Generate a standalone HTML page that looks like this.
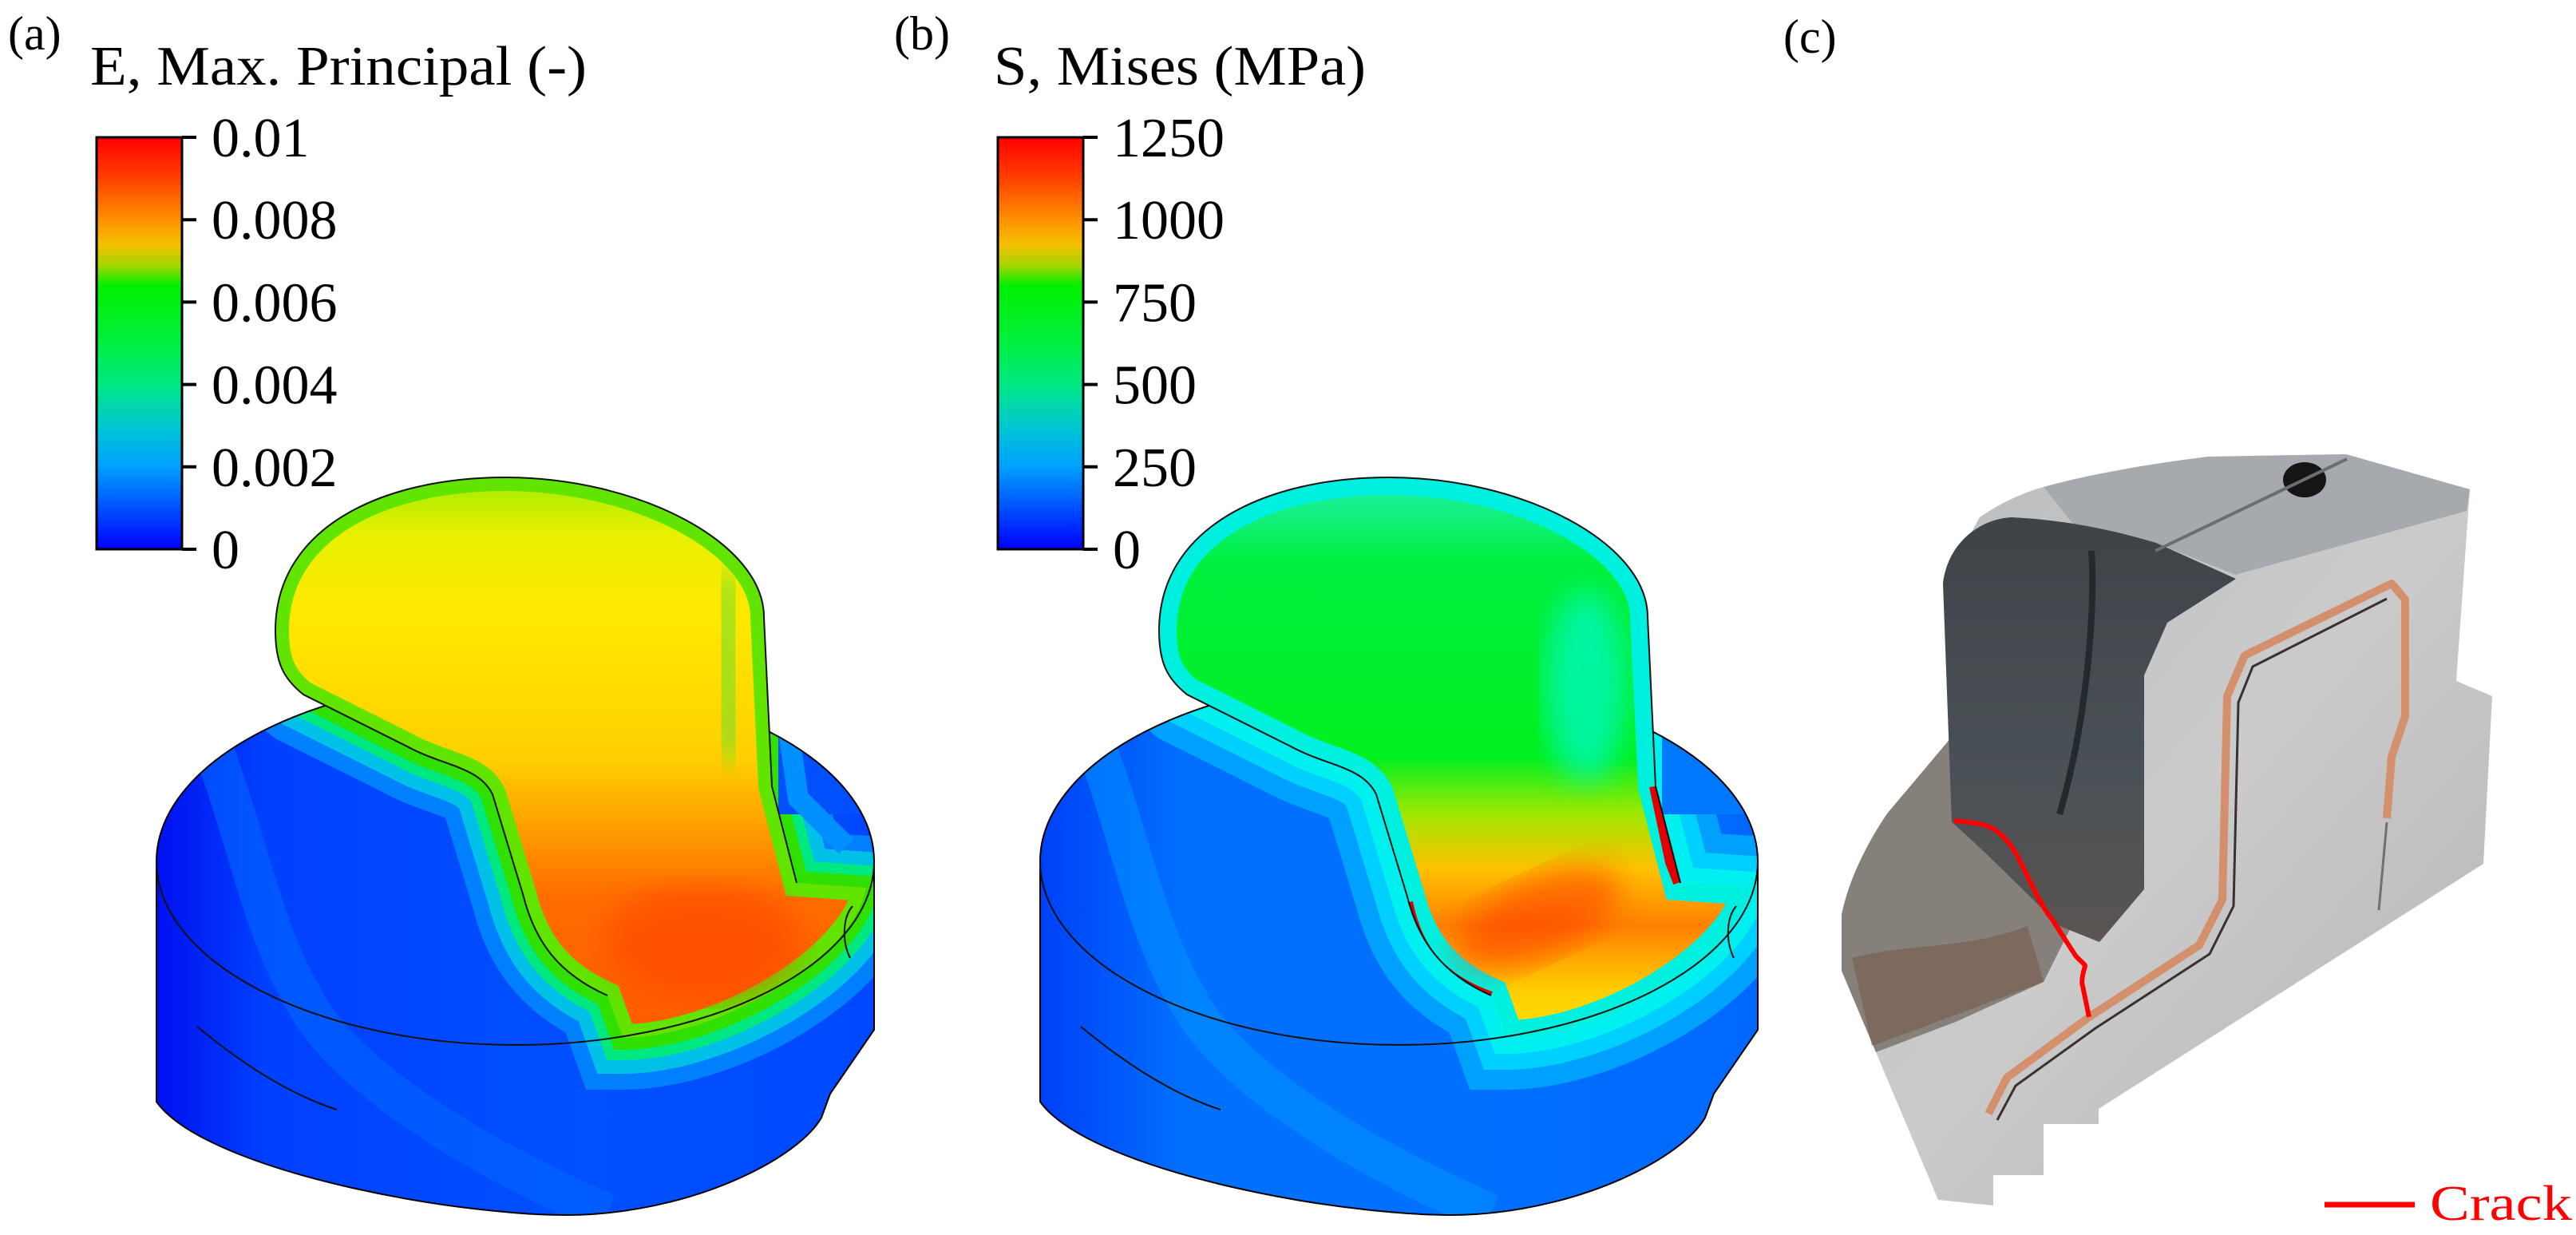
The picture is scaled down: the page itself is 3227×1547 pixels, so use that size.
<!DOCTYPE html>
<html><head><meta charset="utf-8">
<style>
html,body{margin:0;padding:0;background:#fff;}
svg{display:block;}
text{font-family:"Liberation Serif","Times New Roman",serif;}
</style></head>
<body>
<svg id="fig" width="3227" height="1547" viewBox="0 0 3227 1547" xmlns="http://www.w3.org/2000/svg">
<defs>
  <linearGradient id="cbar" x1="0" y1="0" x2="0" y2="1">
    <stop offset="0" stop-color="#ff0000"/>
    <stop offset="0.1" stop-color="#ff4000"/>
    <stop offset="0.2" stop-color="#ff9000"/>
    <stop offset="0.26" stop-color="#f5c000"/>
    <stop offset="0.31" stop-color="#a8d400"/>
    <stop offset="0.36" stop-color="#00f000"/>
    <stop offset="0.5" stop-color="#00f040"/>
    <stop offset="0.6" stop-color="#00e884"/>
    <stop offset="0.7" stop-color="#00c8d0"/>
    <stop offset="0.8" stop-color="#00a0ff"/>
    <stop offset="0.9" stop-color="#0050ff"/>
    <stop offset="1" stop-color="#0000ff"/>
  </linearGradient>
  <linearGradient id="domeA" x1="0" y1="598" x2="0" y2="1300" gradientUnits="userSpaceOnUse">
    <stop offset="0" stop-color="#a0ec00"/>
    <stop offset="0.1" stop-color="#e8f000"/>
    <stop offset="0.25" stop-color="#ffe800"/>
    <stop offset="0.5" stop-color="#ffd000"/>
    <stop offset="0.62" stop-color="#ffa000"/>
    <stop offset="0.75" stop-color="#ff6c00"/>
    <stop offset="1" stop-color="#ff5c00"/>
  </linearGradient>
  <linearGradient id="domeB" x1="0" y1="598" x2="0" y2="1300" gradientUnits="userSpaceOnUse">
    <stop offset="0" stop-color="#20f0b0"/>
    <stop offset="0.15" stop-color="#00f040"/>
    <stop offset="0.5" stop-color="#00f020"/>
    <stop offset="0.6" stop-color="#a0e800"/>
    <stop offset="0.7" stop-color="#ffc000"/>
    <stop offset="0.8" stop-color="#ff8000"/>
    <stop offset="0.92" stop-color="#ffd000"/>
    <stop offset="1" stop-color="#ffe000"/>
  </linearGradient>
  <linearGradient id="baseA" x1="196" y1="0" x2="1095" y2="0" gradientUnits="userSpaceOnUse">
    <stop offset="0" stop-color="#0010f0"/>
    <stop offset="0.15" stop-color="#0040ff"/>
    <stop offset="0.6" stop-color="#0050ff"/>
    <stop offset="1" stop-color="#0048ff"/>
  </linearGradient>
  <linearGradient id="baseB" x1="196" y1="0" x2="1095" y2="0" gradientUnits="userSpaceOnUse">
    <stop offset="0" stop-color="#0040f8"/>
    <stop offset="0.2" stop-color="#0070ff"/>
    <stop offset="0.6" stop-color="#0070ff"/>
    <stop offset="1" stop-color="#0068ff"/>
  </linearGradient>
  <linearGradient id="metal" x1="0" y1="0" x2="1" y2="1">
    <stop offset="0" stop-color="#b8babc"/>
    <stop offset="0.5" stop-color="#cbcbcb"/>
    <stop offset="1" stop-color="#b4b4b4"/>
  </linearGradient>
  <linearGradient id="darkpart" x1="0" y1="0" x2="0" y2="1">
    <stop offset="0" stop-color="#3e4348"/>
    <stop offset="0.6" stop-color="#4a5156"/>
    <stop offset="1" stop-color="#5a5552"/>
  </linearGradient>
  <filter id="blur"><feGaussianBlur stdDeviation="18"/></filter>
  <path id="basePath" d="M196,1079 L196,1380 C260,1470 600,1530 741,1521 C880,1512 1000,1450 1029,1400 L1040,1370 L1095,1290 L1095,1079 A449.5,230 0 0 0 196,1079 Z"/>
  <path id="domePath" d="M345,790 C345,660 480,598 633,598 C800,598 957,680 957,773 L967,985 L998,1106 L1085,1112 C1070,1200 900,1300 780,1300 L761,1247 C700,1220 670,1180 655,1120 L617,995 C600,960 556,960 510,935 L380,870 C355,850 345,830 345,790 Z"/>
  <clipPath id="clipBase"><use href="#basePath"/></clipPath>
  <clipPath id="clipDome"><use href="#domePath"/></clipPath>
</defs>

<text x="10" y="62" font-size="60">(a)</text>
<text x="113" y="106" font-size="70" textLength="622" lengthAdjust="spacingAndGlyphs">E, Max. Principal (-)</text>
<text x="1120" y="62" font-size="60">(b)</text>
<text x="1245" y="106" font-size="70" textLength="466" lengthAdjust="spacingAndGlyphs">S, Mises (MPa)</text>
<text x="2234" y="66" font-size="60">(c)</text>

<g id="modelA">
  <use href="#basePath" fill="url(#baseA)"/>
  <g clip-path="url(#clipBase)">
    <path d="M250,900 C300,1000 320,1150 380,1250 C430,1350 600,1450 760,1520" stroke="#0068ff" stroke-width="50" fill="none" opacity="0.6"/>
    <use href="#domePath" fill="none" stroke="#0080ff" stroke-width="130"/>
    <use href="#domePath" fill="none" stroke="#00c0e8" stroke-width="90"/>
    <use href="#domePath" fill="none" stroke="#00e880" stroke-width="56"/>
    <use href="#domePath" fill="none" stroke="#30e000" stroke-width="30"/>
    <rect x="975" y="780" width="130" height="240" fill="#0050ff"/>
    <path d="M970,790 L1000,1000 L1060,1060" stroke="#0090ff" stroke-width="26" fill="none"/>
  </g>
  <use href="#basePath" fill="none" stroke="#000" stroke-width="2"/>
  <use href="#domePath" fill="url(#domeA)"/>
  <g clip-path="url(#clipDome)">
    <use href="#domePath" fill="none" stroke="#60e400" stroke-width="34"/>
    <path d="M905,720 L920,950" stroke="#80e020" stroke-width="60" fill="none" opacity="0.7" filter="url(#blur)"/>
    <ellipse cx="880" cy="1180" rx="120" ry="70" fill="#ff4000" opacity="0.55" filter="url(#blur)"/>
  </g>
  <path d="M196,1079 A449.5,230 0 0 0 1095,1079" fill="none" stroke="#111" stroke-width="2"/>
  <path d="M345,790 C345,660 480,598 633,598 C800,598 957,680 957,773 L967,985 L998,1106" fill="none" stroke="#111" stroke-width="2"/>
  <path d="M345,790 C345,830 355,850 380,870 L510,935 C556,960 600,960 617,995 L655,1120 C670,1180 700,1220 761,1247" fill="none" stroke="#111" stroke-width="2"/>
  <path d="M247,1286 C300,1330 360,1370 422,1390" fill="none" stroke="#111" stroke-width="2"/>
  <path d="M1068,1135 C1055,1150 1055,1180 1065,1200" fill="none" stroke="#111" stroke-width="2"/>
</g>

<g id="modelB" transform="translate(1107,0)">
  <use href="#basePath" fill="url(#baseB)"/>
  <g clip-path="url(#clipBase)">
    <path d="M250,900 C300,1000 320,1150 380,1250 C430,1350 600,1450 760,1520" stroke="#0090ff" stroke-width="50" fill="none" opacity="0.6"/>
    <use href="#domePath" fill="none" stroke="#00a0ff" stroke-width="130"/>
    <use href="#domePath" fill="none" stroke="#00d0ff" stroke-width="80"/>
    <use href="#domePath" fill="none" stroke="#00f0f0" stroke-width="40"/>
    <rect x="975" y="780" width="130" height="240" fill="#0078ff"/>
  </g>
  <use href="#basePath" fill="none" stroke="#000" stroke-width="2"/>
  <use href="#domePath" fill="url(#domeB)"/>
  <g clip-path="url(#clipDome)">
    <use href="#domePath" fill="none" stroke="#00f0e0" stroke-width="44"/>
    <ellipse cx="880" cy="860" rx="50" ry="120" fill="#00f8d0" opacity="0.7" filter="url(#blur)"/>
    <ellipse cx="820" cy="1150" rx="110" ry="50" fill="#ff3000" opacity="0.5" transform="rotate(-25 820 1150)" filter="url(#blur)"/>
    <path d="M965,985 L985,1080 L995,1106" stroke="#e00000" stroke-width="12" fill="none"/>
    <path d="M658,1130 C670,1190 700,1225 761,1247" stroke="#e00000" stroke-width="10" fill="none"/>
  </g>
  <path d="M196,1079 A449.5,230 0 0 0 1095,1079" fill="none" stroke="#111" stroke-width="2"/>
  <path d="M345,790 C345,660 480,598 633,598 C800,598 957,680 957,773 L967,985 L998,1106" fill="none" stroke="#111" stroke-width="2"/>
  <path d="M345,790 C345,830 355,850 380,870 L510,935 C556,960 600,960 617,995 L655,1120 C670,1180 700,1220 761,1247" fill="none" stroke="#111" stroke-width="2"/>
  <path d="M247,1286 C300,1330 360,1370 422,1390" fill="none" stroke="#111" stroke-width="2"/>
  <path d="M1068,1135 C1055,1150 1055,1180 1065,1200" fill="none" stroke="#111" stroke-width="2"/>
</g>

<g id="photo">
  <path d="M2480,648 C2520,620 2560,610 2560,610 C2650,585 2767,572 2767,572 L2939,569 L3094,613 L3077,853 L3122,872 L3111,1082 L2629,1389 L2629,1408 L2560,1408 L2560,1472 L2497,1472 L2497,1510 L2428,1503 L2307,1216 L2307,1146 C2320,1080 2365,1018 2365,1018 L2445,923 L2434,731 Z" fill="url(#metal)"/>
  <path d="M2560,610 C2650,585 2767,572 2767,572 L2939,569 L3094,613 L3090,640 L2800,720 L2700,680 L2600,660 Z" fill="#a6aaae"/>
  <path d="M2307,1146 C2320,1080 2365,1018 2365,1018 L2445,923 L2500,1000 L2600,1150 L2560,1230 L2450,1280 L2350,1318 L2307,1216 Z" fill="#858079"/>
  <path d="M2320,1200 C2400,1180 2460,1190 2540,1160 L2560,1230 L2400,1290 L2345,1310 Z" fill="#7a5a4e" opacity="0.6"/>
  <path d="M2434,731 C2440,680 2480,650 2520,648 C2600,652 2660,668 2701,680 L2801,725 L2715,780 L2686,846 L2686,1114 L2630,1180 L2580,1160 C2540,1120 2480,1060 2445,1030 Z" fill="url(#darkpart)"/>
  <path d="M2620,690 C2625,760 2615,900 2580,1020" stroke="#25292d" stroke-width="8" fill="none"/>
  <ellipse cx="2887" cy="601" rx="27" ry="22" fill="#151515"/>
  <path d="M2700,690 L2940,575" stroke="#6a6e72" stroke-width="4" fill="none"/>
  <path d="M2491,1395 L2514,1350 L2617,1274 L2755,1184 L2784,1127 L2790,872 L2812,821 L2996,731 L3013,751 L3013,897 L2996,948 L2990,1025" stroke="#d4906c" stroke-width="10" fill="none" stroke-linejoin="round"/>
  <path d="M2502,1403 L2525,1360 L2625,1288 L2768,1195 L2798,1135 L2804,880 L2822,835 L2990,750" stroke="#3a3030" stroke-width="3" fill="none"/>
  <path d="M2990,1030 L2980,1140" stroke="#707070" stroke-width="3" fill="none"/>
  <path d="M2448,1028 C2470,1030 2490,1033 2497,1038 C2512,1048 2520,1060 2526,1070 L2548,1114 C2556,1130 2563,1142 2571,1152 L2600,1197 C2606,1204 2612,1208 2612,1210 C2609,1220 2607,1230 2609,1235 L2617,1274" stroke="#ff0000" stroke-width="6" fill="none"/>
</g>

<line x1="2912" y1="1509" x2="3025" y2="1509" stroke="#ff0000" stroke-width="7"/>
<text x="3044" y="1528" font-size="62" fill="#ff0000" textLength="178" lengthAdjust="spacingAndGlyphs">Crack</text>

<g id="cbA"></g>
<g id="cbB"></g>
</svg>
<script>
const ticksA = ["0", "0.002", "0.004", "0.006", "0.008", "0.01"];
const ticksB = ["0", "250", "500", "750", "1000", "1250"];
const NS = "http://www.w3.org/2000/svg";
function drawBar(gid, x, labels, prefix) {
  const g = document.getElementById(gid);
  const top = 172, bot = 688, w = 107;
  const r = document.createElementNS(NS, "rect");
  r.setAttribute("x", x); r.setAttribute("y", top);
  r.setAttribute("width", w); r.setAttribute("height", bot - top);
  r.setAttribute("fill", "url(#cbar)"); r.setAttribute("stroke", "#000"); r.setAttribute("stroke-width", "3");
  
  
  g.appendChild(r);
  const n = labels.length - 1;
  labels.forEach((lab, i) => {
    const y = bot - i * (bot - top) / n;
    const t = document.createElementNS(NS, "line");
    t.setAttribute("x1", x + w); t.setAttribute("x2", x + w + 18);
    t.setAttribute("y1", y); t.setAttribute("y2", y);
    t.setAttribute("stroke", "#000"); t.setAttribute("stroke-width", "4");
    
    
    g.appendChild(t);
    const tx = document.createElementNS(NS, "text");
    tx.setAttribute("x", x + w + 37); tx.setAttribute("y", y + 24);
    tx.setAttribute("font-size", "70");
    tx.textContent = lab;
    
    
    g.appendChild(tx);
  });
}
drawBar("cbA", 121, ticksA, "colorbar-strain");
drawBar("cbB", 1250, ticksB, "colorbar-stress");
</script>
</body></html>
